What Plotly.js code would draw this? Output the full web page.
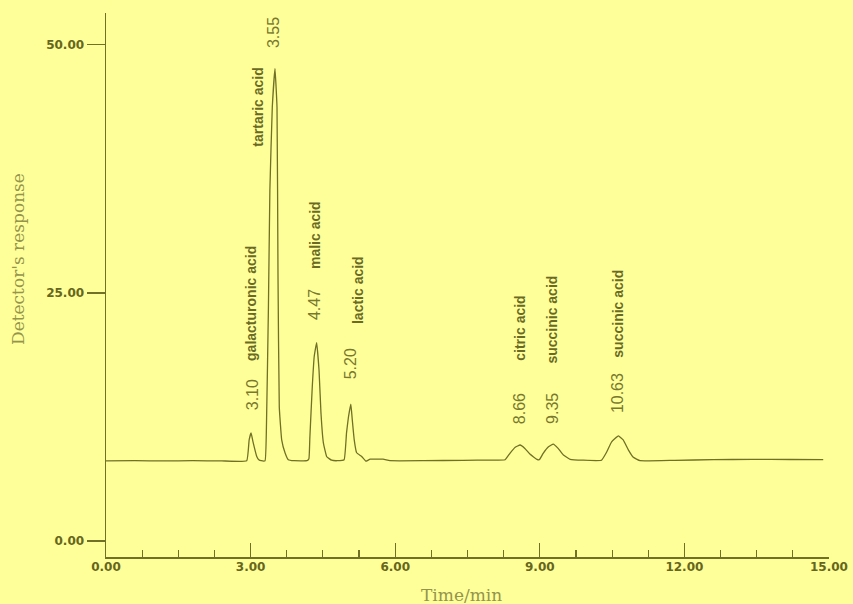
<!DOCTYPE html>
<html>
<head>
<meta charset="utf-8">
<script src="https://cdn.plot.ly/plotly-3.0.1.min.js"></script>
<style>
  html, body { margin: 0; padding: 0; background: #ffff99; }
  #chart { width: 853px; height: 604px; }
</style>
</head>
<body>
<div id="chart"></div>
<script>
// ---- data ----
const times = [
  0.00, 0.60, 1.20, 1.80, 2.40, 2.92, 2.97, 3.01, 3.05, 3.13, 3.17, 3.22,
  3.30, 3.33, 3.37, 3.40, 3.45, 3.506, 3.548, 3.568, 3.595, 3.645, 3.714, 3.782, 3.90,
  4.17, 4.21, 4.23, 4.28, 4.32, 4.37, 4.42, 4.46, 4.51, 4.58, 4.68, 4.80,
  4.94, 4.99, 5.03, 5.08, 5.11, 5.15, 5.20, 5.31, 5.39, 5.48, 5.75, 5.89,
  6.60, 7.40, 8.00,
  8.28, 8.38, 8.49, 8.59, 8.69, 8.80, 8.94, 8.99,
  9.07, 9.18, 9.28, 9.38, 9.49, 9.63, 9.90,
  10.28, 10.39, 10.49, 10.63, 10.73, 10.84, 10.94, 11.08,
  11.80, 12.60, 13.40, 14.20, 14.88
];
const response = [
  8.08, 8.10, 8.08, 8.10, 8.08, 8.10, 10.2, 10.9, 10.0, 8.5, 8.2, 8.1,
  8.1, 11.9, 23.6, 35.4, 43.7, 47.6, 43.7, 27.0, 13.5, 10.2, 8.9, 8.2, 8.1,
  8.1, 8.3, 10.5, 15.6, 18.6, 20.0, 17.2, 12.9, 9.9, 8.5, 8.15, 8.1,
  8.2, 10.9, 12.5, 13.8, 12.2, 10.2, 8.9, 8.5, 8.05, 8.25, 8.25, 8.1,
  8.10, 8.14, 8.16,
  8.2, 8.84, 9.45, 9.68, 9.34, 8.74, 8.24, 8.2,
  8.84, 9.5, 9.78, 9.34, 8.67, 8.24, 8.15,
  8.15, 9.0, 10.0, 10.6, 10.2, 9.17, 8.44, 8.1,
  8.14, 8.2, 8.24, 8.22, 8.2
];
const peakTimes = ['3.10', '3.55', '4.47', '5.20', '8.66', '9.35', '10.63'];
const peakNames = ['galacturonic acid', 'tartaric acid', 'malic acid', 'lactic acid',
                   'citric acid', 'succinic acid', 'succinic acid'];
const xTickVals = [0, 3, 6, 9, 12, 15];
const xTickText = ['0.00', '3.00', '6.00', '9.00', '12.00', '15.00'];
const yTickVals = [0, 25, 50];
const yTickText = ['0.00', '25.00', '50.00'];

// ---- label placement (layout only) ----
const timeLabelAt = [[3.03, 14.7], [3.49, 51.2], [4.34, 23.8], [5.08, 17.9], [8.57, 13.3], [9.25, 13.4], [10.60, 14.9]];
const nameLabelAt = [[3.01, 23.9], [3.15, 43.75], [4.34, 30.85], [5.23, 25.3], [8.59, 21.4], [9.25, 22.3], [10.62, 22.9]];

const ink = '#707026';
const bg = '#ffff99';

const annotations = [];
peakTimes.forEach((t, i) => {
  annotations.push({
    x: timeLabelAt[i][0], y: timeLabelAt[i][1], xref: 'x', yref: 'y',
    text: t, showarrow: false, textangle: -90,
    xanchor: 'center', yanchor: 'middle',
    font: { family: 'Liberation Sans, Arial, sans-serif', size: 16, color: '#78782e' }
  });
  annotations.push({
    x: nameLabelAt[i][0], y: nameLabelAt[i][1], xref: 'x', yref: 'y',
    text: peakNames[i], showarrow: false, textangle: -90,
    xanchor: 'center', yanchor: 'middle',
    font: { family: 'Liberation Sans, Arial, sans-serif', size: 14, color: '#6a6a24', weight: 'bold' }
  });
});
annotations.push({
  x: 18, y: 259, xref: 'paper', yref: 'paper', text: "Detector's response",
  showarrow: false, textangle: -90, xanchor: 'center', yanchor: 'middle',
  font: { family: 'DejaVu Serif, serif', size: 17, color: '#94944c' }
});
annotations.push({
  x: 461, y: 595, xref: 'paper', yref: 'paper', text: 'Time/min',
  showarrow: false, xanchor: 'center', yanchor: 'middle',
  font: { family: 'DejaVu Serif, serif', size: 17, color: '#94944c' }
});
// convert pixel positions of axis titles into paper coords
const W = 853, H = 604, ml = 106, mr = 24, mt = 13, mb = 47;
const pw = W - ml - mr, ph = H - mt - mb;
annotations.slice(-2).forEach(a => {
  a.x = (a.x - ml) / pw;
  a.y = (H - mb - a.y) / ph;
});

const trace = {
  x: times, y: response, type: 'scatter', mode: 'lines',
  line: { color: ink, width: 1.3, shape: 'spline', smoothing: 0.3 },
  hoverinfo: 'x+y'
};

const layout = {
  width: W, height: H,
  margin: { l: ml, r: mr, t: mt, b: mb, pad: 0 },
  paper_bgcolor: bg, plot_bgcolor: bg,
  showlegend: false,
  xaxis: {
    range: [0, 15], tickvals: xTickVals, ticktext: xTickText,
    showline: true, linecolor: ink, linewidth: 1.5,
    ticks: 'inside', ticklen: 14, tickwidth: 1.3, tickcolor: ink,
    minor: { dtick: 0.75, tick0: 0, ticks: 'inside', ticklen: 7, tickwidth: 1.1, tickcolor: ink },
    showgrid: false, zeroline: false,
    tickfont: { family: 'DejaVu Sans, sans-serif', size: 12, color: '#66661c', weight: 'bold' },
    ticklabelstandoff: -2
  },
  yaxis: {
    range: [-1.6, 53.2], tickvals: yTickVals, ticktext: yTickText,
    showline: true, linecolor: ink, linewidth: 1.5,
    ticks: 'outside', ticklen: 18, tickwidth: 1.3, tickcolor: ink,
    showgrid: false, zeroline: false,
    tickfont: { family: 'DejaVu Sans, sans-serif', size: 12, color: '#66661c', weight: 'bold' },
    ticklabelstandoff: 0
  },
  annotations: annotations
};

Plotly.newPlot('chart', [trace], layout, { displayModeBar: false, staticPlot: true });
</script>
</body>
</html>
